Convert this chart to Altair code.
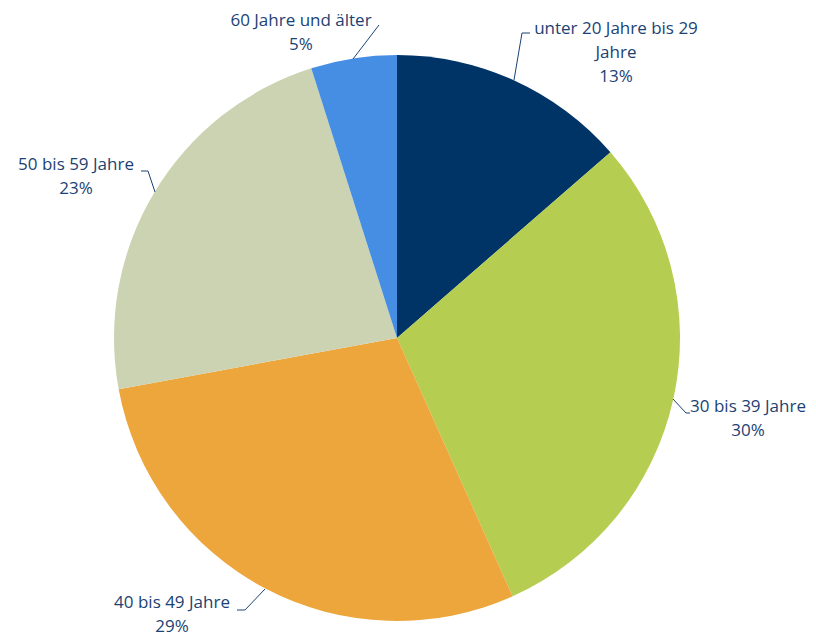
import altair as alt
import pandas as pd

# data
categories = ["unter 20 Jahre bis 29 Jahre", "30 bis 39 Jahre", "40 bis 49 Jahre", "50 bis 59 Jahre", "60 Jahre und älter"]
values = [13.6, 29.7, 28.8, 23.0, 4.9]
pct_labels = ["13%", "30%", "29%", "23%", "5%"]
label_lines = [["unter 20 Jahre bis 29", "Jahre"], ["30 bis 39 Jahre"], ["40 bis 49 Jahre"], ["50 bis 59 Jahre"], ["60 Jahre und älter"]]
colors = ["#003466", "#b5cd50", "#eca63b", "#ccd3b2", "#458ee3"]

# layout (page pixel coordinates, converted to SVG by subtracting the 8px margin)
M = 8
cx, cy, R = 397, 338, 283
label_pos = [(616, 29), (748, 407), (172, 603), (76, 165), (301, 21)]
line_h = 24
leaders = [
    [(514, 80), (522, 33), (530, 33)],
    [(673, 399), (686, 413), (690, 413)],
    [(265, 589), (245, 610), (237, 610)],
    [(141, 171), (148, 171), (155, 192)],
    [(353, 59), (379, 25)],
]
text_color = "#1b4273"

pie_df = pd.DataFrame({"cat": categories, "value": values, "ord": list(range(len(categories)))})

rows = []
for i, (lines, pct) in enumerate(zip(label_lines, pct_labels)):
    lx, ly = label_pos[i]
    for j, t in enumerate(lines + [pct]):
        rows.append({"t": t, "lx": lx - M, "ly": ly - M + j * line_h})
text_df = pd.DataFrame(rows)

lrows = []
for i, pts in enumerate(leaders):
    for k, (px, py) in enumerate(pts):
        lrows.append({"id": i, "k": k, "px": px - M, "py": py - M})
lead_df = pd.DataFrame(lrows)

pie = alt.Chart(pie_df).mark_arc(radius=R).encode(
    theta=alt.Theta("value:Q", stack=True),
    order=alt.Order("ord:Q"),
    color=alt.Color("cat:N", scale=alt.Scale(domain=categories, range=colors), legend=None),
    x=alt.value(cx - M),
    y=alt.value(cy - M),
)

lead = alt.Chart(lead_df).mark_line(color=text_color, strokeWidth=1).encode(
    x=alt.X("px:Q", scale=None, axis=None),
    y=alt.Y("py:Q", scale=None, axis=None),
    detail="id:N",
    order="k:Q",
)

txt = alt.Chart(text_df).mark_text(
    font="Open Sans", fontSize=17, color=text_color, align="center", baseline="middle"
).encode(
    x=alt.X("lx:Q", scale=None, axis=None),
    y=alt.Y("ly:Q", scale=None, axis=None),
    text="t:N",
)

chart = alt.layer(pie, lead, txt).properties(
    width=800, height=629, padding=0, autosize=alt.AutoSizeParams(type="none"), background="white"
).configure_view(stroke=None)

chart.save("out.html", embed_options={"renderer": "svg", "actions": False})
